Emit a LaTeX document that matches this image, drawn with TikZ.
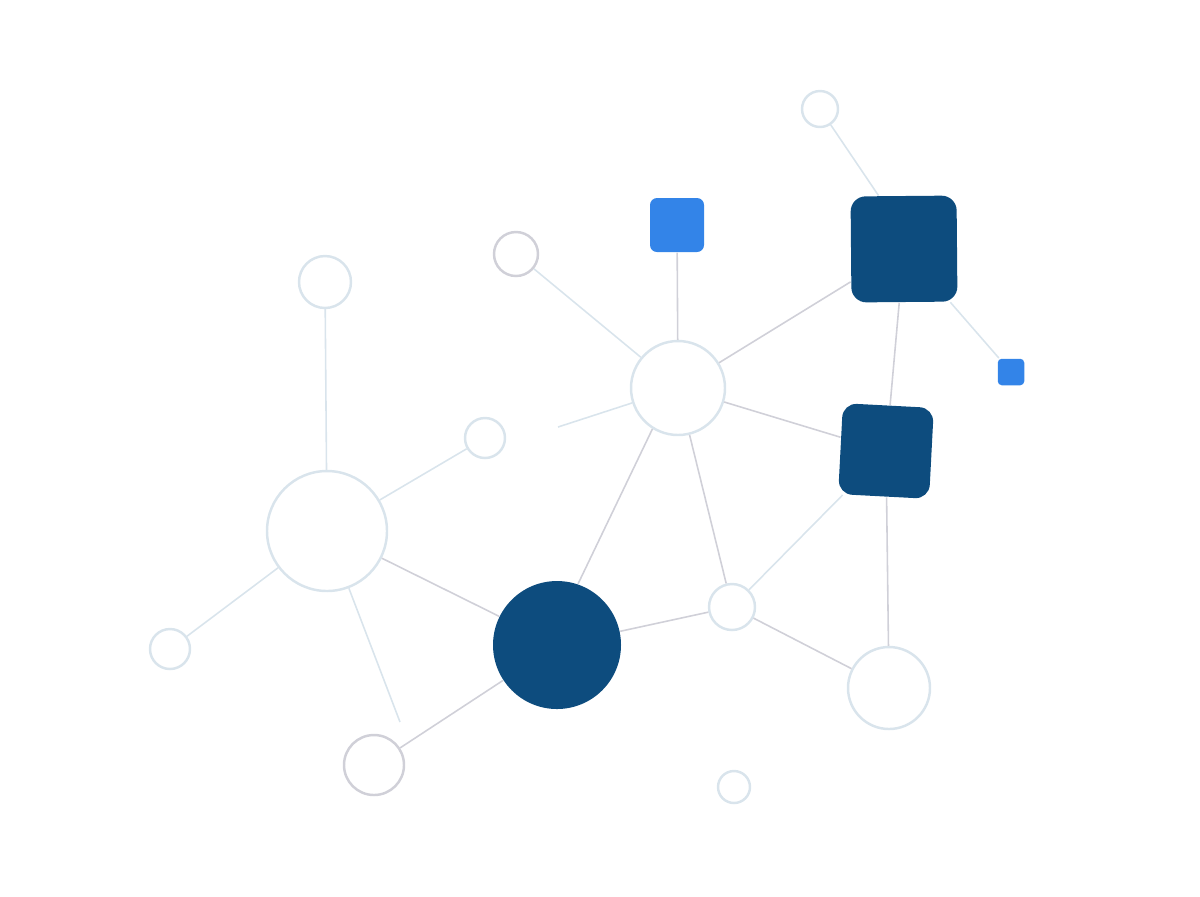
\documentclass[tikz,border=0pt]{standalone}
\definecolor{navy}{HTML}{0D4C7E}
\definecolor{azure}{HTML}{3384E8}
\definecolor{mist}{HTML}{D9E4EC}
\definecolor{ash}{HTML}{D0D0D8}
\begin{document}
\begin{tikzpicture}[x=0.1mm,y=-0.1mm,
    ring/.style={circle,draw=mist,line width=0.7pt,fill=white,inner sep=0pt},
    grayring/.style={ring,draw=ash},
    block/.style={rectangle,rounded corners=1.5mm,fill=navy,inner sep=0pt},
    tag/.style={rectangle,rounded corners=0.7mm,fill=azure,inner sep=0pt},
    soft/.style={draw=mist,line width=0.45pt},
    hard/.style={draw=ash,line width=0.45pt}]
        \useasboundingbox (0,0) rectangle (1200,896);
        \node[ring,minimum size=3.6mm] (0) at (820,109){};
        \node[block,minimum size=10.6mm,rotate=0.5] (1) at (904,249){};
        \node[tag,minimum size=2.65mm,rounded corners=0.4mm] (2) at (1011,372){};
        \node[tag,minimum size=5.4mm] (3) at (677,225){};
        \node[grayring,minimum size=4.4mm] (4) at (516,254){};
        \node[ring,minimum size=9.4mm] (5) at (678,388){};
        \node[block,minimum size=9.1mm,rounded corners=1.4mm,rotate=-3] (6) at (886,451){};
        \node[ring,minimum size=5.2mm] (7) at (325,282){};
        \node[ring,minimum size=4.0mm] (8) at (485,438){};
        \node[ring,minimum size=12mm] (9) at (327,531){};
        \node[circle,fill=navy,inner sep=0pt,minimum size=12.8mm] (10) at (557,645){};
        \node[ring,minimum size=4.6mm] (11) at (732,607){};
        \node[ring,minimum size=8.2mm] (12) at (889,688){};
        \node[ring,minimum size=4.0mm] (13) at (170,649){};
        \node[grayring,minimum size=6.0mm] (14) at (374,765){};
        \node[ring,minimum size=3.2mm] (15) at (734,787){};
        \coordinate (a) at (558,427);
        \coordinate (b) at (400,722);
        \draw[soft] (0) -- (1.115);
        \draw[soft] (1) -- (2);
        \draw[hard] (1) -- (5);
        \draw[hard] (1) -- (6);
        \draw[hard] (3) -- (5);
        \draw[soft] (4) -- (5);
        \draw[soft] (5) -- (a);
        \draw[hard] (5) -- (6);
        \draw[hard] (5.238) -- (10.71);
        \draw[hard] (5) -- (11);
        \draw[soft] (6) -- (11);
        \draw[hard] (6) -- (12);
        \draw[hard] (11) -- (12);
        \draw[hard] (10) -- (11);
        \draw[soft] (7) -- (9);
        \draw[soft] (8) -- (9);
        \draw[soft] (9) -- (13);
        \draw[hard] (9) -- (10);
        \draw[soft] (9) -- (b);
        \draw[hard] (10) -- (14);
    \end{tikzpicture}
\end{document}
